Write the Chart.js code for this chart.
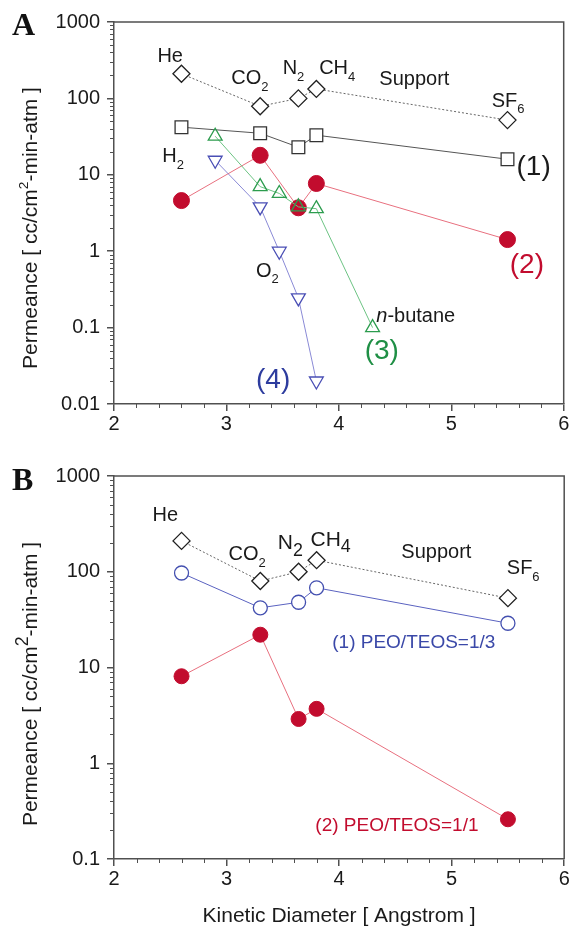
<!DOCTYPE html>
<html lang="en">
<head>
<meta charset="UTF-8" />
<title>Permeance vs Kinetic Diameter</title>
<style>
  * { box-sizing: border-box; margin: 0; padding: 0; }
  body { width: 574px; height: 926px; background: #fff; overflow: hidden; }
  .panel { position: absolute; left: 0; }
  #panel-a { top: 0; }
  #panel-b { top: 440px; }
</style>
</head>
<body>
<div class="panel" id="panel-a"><canvas id="chart-a" width="574" height="440"></canvas></div>
<div class="panel" id="panel-b"><canvas id="chart-b" width="574" height="486"></canvas></div>

<script src="https://cdn.jsdelivr.net/npm/chart.js"></script>
<script>
  // axis ticks
  const xTicks = [2, 3, 4, 5, 6];
  const yTicksA = [0.01, 0.1, 1, 10, 100, 1000];
  const yTicksB = [0.1, 1, 10, 100, 1000];

  // kinetic diameters: He, CO2, N2, CH4, SF6
  const gasX = [2.6, 3.3, 3.64, 3.8, 5.5];

  // panel A
  const supportA = [210, 79, 100, 133, 52];
  const film1A = [42, 35, 23, 33, 16];
  const film2A = [4.6, 18, 3.7, 7.7, 1.42];
  // H2, CO2, O2, N2, CH4, n-butane
  const film3X = [2.9, 3.3, 3.47, 3.64, 3.8, 4.3];
  const film3A = [32, 7.0, 5.7, 3.8, 3.6, 0.1];
  // H2, CO2, O2, N2, CH4
  const film4X = [2.9, 3.3, 3.47, 3.64, 3.8];
  const film4A = [15.5, 3.8, 1.0, 0.245, 0.02];

  // panel B
  const supportB = [210, 80, 100, 132, 53];
  const peo13B = [97, 42, 48, 68, 29];
  const peo11B = [8.1, 22, 2.9, 3.7, 0.26];

  const FONT = '"Liberation Sans", Arial, sans-serif';
  const axisColor = "#505050";
  const textColor = "#1a1a1a";
  const red = "#c20c2e", redLine = "#e8707f";
  const green = "#2c9c4e", greenLine = "#6cc383", greenText = "#1f8f45";
  const blue = "#4a4fb5", blueLine = "#8a8ad6", blueText = "#2d3c9e";
  const blueB = "#4450b0", blueBLine = "#5a62c0", blueBText = "#3a48a8";

  // annotation texts, anchored in data coords (left edge, cap middle)
  // "_" = subscript, "^" = superscript, "*" = italic
  const labelsA = [
    { x: 2.386, y: 369, parts: ["He"], size: 20 },
    { x: 3.044, y: 190, parts: ["CO", "_2"], size: 20 },
    { x: 3.5, y: 257, parts: ["N", "_2"], size: 20 },
    { x: 3.825, y: 257, parts: ["CH", "_4"], size: 20 },
    { x: 4.36, y: 184, parts: ["Support"], size: 20 },
    { x: 5.36, y: 97, parts: ["SF", "_6"], size: 20 },
    { x: 2.43, y: 18, parts: ["H", "_2"], size: 20 },
    { x: 3.263, y: 0.574, parts: ["O", "_2"], size: 20 },
    { x: 4.333, y: 0.147, parts: ["*n", "-butane"], size: 20 },
    { x: 5.58, y: 13.3, parts: ["(1)"], size: 28 },
    { x: 5.52, y: 0.707, parts: ["(2)"], size: 28, color: red },
    { x: 4.23, y: 0.0527, parts: ["(3)"], size: 28, color: greenText },
    { x: 3.263, y: 0.0219, parts: ["(4)"], size: 28, color: blueText },
  ];
  const labelsB = [
    { x: 2.342, y: 401, parts: ["He"], size: 20 },
    { x: 3.018, y: 157, parts: ["CO", "_2"], size: 20 },
    { x: 3.456, y: 205, parts: ["N", "_2"], size: 21, sub: 0.85 },
    { x: 3.746, y: 225, parts: ["CH", "_4"], size: 21, sub: 0.85 },
    { x: 4.553, y: 165, parts: ["Support"], size: 20 },
    { x: 5.49, y: 112, parts: ["SF", "_6"], size: 20 },
    { x: 3.939, y: 18.9, parts: ["(1) PEO/TEOS=1/3"], size: 19, color: blueBText },
    { x: 3.789, y: 0.232, parts: ["(2) PEO/TEOS=1/1"], size: 19, color: red },
  ];

  function points(xs, ys) {
    return xs.map((x, i) => ({ x: x, y: ys[i] }));
  }

  function partsWidth(ctx, parts, size, sub) {
    let w = 0;
    parts.forEach((p) => {
      const s = setPartFont(ctx, p, size, sub);
      w += ctx.measureText(s.t).width;
    });
    return w;
  }

  function setPartFont(ctx, p, size, sub) {
    let t = p, fs = size, dy = 0, style = "";
    if (p[0] === "_") { t = p.slice(1); fs = size * (sub || 0.65); dy = size * 0.32; }
    else if (p[0] === "^") { t = p.slice(1); fs = size * (sub || 0.65); dy = -size * 0.42; }
    else if (p[0] === "*") { t = p.slice(1); style = "italic "; }
    ctx.font = style + fs + "px " + FONT;
    return { t: t, dy: dy };
  }

  function drawParts(ctx, left, mid, parts, size, color, sub) {
    let cx = left;
    const base = mid + size * 0.36;
    ctx.fillStyle = color;
    ctx.textAlign = "left";
    ctx.textBaseline = "alphabetic";
    parts.forEach((p) => {
      const s = setPartFont(ctx, p, size, sub);
      ctx.fillText(s.t, cx, base + s.dy);
      cx += ctx.measureText(s.t).width;
    });
  }

  function decor(cfg) {
    return {
      id: "decor",
      afterDraw(chart) {
        const ctx = chart.ctx;
        const a = chart.chartArea;
        const xs = chart.scales.x, ys = chart.scales.y;
        ctx.save();
        // top and right frame
        ctx.strokeStyle = axisColor;
        ctx.lineWidth = 1.5;
        ctx.beginPath();
        ctx.moveTo(a.left, a.top);
        ctx.lineTo(a.right, a.top);
        ctx.lineTo(a.right, a.bottom);
        ctx.stroke();
        // minor ticks
        ctx.lineWidth = 1;
        ctx.beginPath();
        for (let i = 0; i < xTicks.length - 1; i++) {
          for (let k = 1; k < 5; k++) {
            const px = Math.round(xs.getPixelForValue(xTicks[i] + k * 0.2)) + 0.5;
            ctx.moveTo(px, a.bottom);
            ctx.lineTo(px, a.bottom + 4);
          }
        }
        cfg.yTicks.slice(0, -1).forEach((d) => {
          for (let k = 2; k < 10; k++) {
            const py = Math.round(ys.getPixelForValue(d * k)) + 0.5;
            ctx.moveTo(a.left, py);
            ctx.lineTo(a.left - 4, py);
          }
        });
        ctx.stroke();

        // annotations
        cfg.labels.forEach((l) => {
          drawParts(ctx, xs.getPixelForValue(l.x), ys.getPixelForValue(l.y),
            l.parts, l.size, l.color || textColor, l.sub);
        });

        // y axis title
        ctx.save();
        ctx.translate(29, cfg.yTitleY);
        ctx.rotate(-Math.PI / 2);
        const tw = partsWidth(ctx, cfg.yTitle, 21, cfg.titleSup);
        drawParts(ctx, -tw / 2, 0, cfg.yTitle, 21, textColor, cfg.titleSup);
        ctx.restore();

        // x axis title
        if (cfg.xTitle) {
          ctx.font = "21px " + FONT;
          ctx.fillStyle = textColor;
          ctx.textAlign = "center";
          ctx.textBaseline = "alphabetic";
          ctx.fillText(cfg.xTitle, (a.left + a.right) / 2, cfg.xTitleY + 21 * 0.36);
        }

        // panel letter
        ctx.font = 'bold 32px "Liberation Serif", "Times New Roman", serif';
        ctx.fillStyle = "#111";
        ctx.textAlign = "left";
        ctx.fillText(cfg.letter, 12, cfg.letterY);
        ctx.restore();
      },
    };
  }

  function makeChart(id, datasets, yTicks, padTop, xHeight, cfg) {
    cfg.yTicks = yTicks;
    return new Chart(document.getElementById(id).getContext("2d"), {
      type: "scatter",
      data: { datasets: datasets },
      options: {
        responsive: false,
        animation: false,
        devicePixelRatio: 1,
        layout: { padding: { top: padTop, right: 4, left: 0, bottom: 0 } },
        plugins: { legend: { display: false }, tooltip: { enabled: false } },
        scales: {
          x: {
            type: "linear",
            min: 2,
            max: 6,
            afterBuildTicks: (s) => { s.ticks = xTicks.map((v) => ({ value: v })); },
            afterFit: (s) => { s.height = xHeight; s.paddingLeft = 0; s.paddingRight = 0; },
            ticks: { font: { size: 20, family: FONT }, color: textColor, padding: 1, maxRotation: 0, autoSkip: false, callback: (v) => String(v) },
            grid: { display: true, drawOnChartArea: false, drawTicks: true, tickLength: 7, color: axisColor, lineWidth: 1.5 },
            border: { display: true, color: axisColor, width: 1.5 },
          },
          y: {
            type: "logarithmic",
            min: yTicks[0],
            max: yTicks[yTicks.length - 1],
            afterBuildTicks: (s) => { s.ticks = yTicks.map((v) => ({ value: v })); },
            afterFit: (s) => { s.width = 114; s.paddingTop = 0; s.paddingBottom = 0; },
            ticks: { font: { size: 20, family: FONT }, color: textColor, padding: 7, autoSkip: false, callback: (v) => String(v) },
            grid: { display: true, drawOnChartArea: false, drawTicks: true, tickLength: 7, color: axisColor, lineWidth: 1.5 },
            border: { display: true, color: axisColor, width: 1.5 },
          },
        },
      },
      plugins: [decor(cfg)],
    });
  }

  function support(ys) {
    return {
      label: "Support", data: points(gasX, ys), showLine: true, order: 6,
      borderColor: "#666", borderWidth: 1, borderDash: [2, 2],
      pointStyle: "rectRot", pointRadius: 8.5, pointBorderWidth: 1.3,
      pointBorderColor: "#222", pointBackgroundColor: "#fff",
    };
  }

  makeChart("chart-a", [
    support(supportA),
    {
      label: "(1)", data: points(gasX, film1A), showLine: true, order: 5,
      borderColor: "#555", borderWidth: 1,
      pointStyle: "rect", pointRadius: 9, pointBorderWidth: 1.3,
      pointBorderColor: "#333", pointBackgroundColor: "#fff",
    },
    {
      label: "(2)", data: points(gasX, film2A), showLine: true, order: 4,
      borderColor: redLine, borderWidth: 1,
      pointStyle: "circle", pointRadius: 8, pointBorderWidth: 1,
      pointBorderColor: red, pointBackgroundColor: red,
    },
    {
      label: "(3)", data: points(film3X, film3A), showLine: true, order: 3,
      borderColor: greenLine, borderWidth: 1,
      pointStyle: "triangle", pointRadius: 8, pointBorderWidth: 1.3,
      pointBorderColor: green, pointBackgroundColor: "rgba(255,255,255,0)",
    },
    {
      label: "(4)", data: points(film4X, film4A), showLine: true, order: 2,
      borderColor: blueLine, borderWidth: 1,
      pointStyle: "triangle", pointRotation: 180, pointRadius: 8, pointBorderWidth: 1.3,
      pointBorderColor: blue, pointBackgroundColor: "#fff",
    },
  ], yTicksA, 22, 36, {
    labels: labelsA,
    letter: "A", letterY: 35,
    yTitle: ["Permeance [ cc/cm", "^2", "-min-atm ]"], yTitleY: 228,
  });

  makeChart("chart-b", [
    support(supportB),
    {
      label: "(1) PEO/TEOS=1/3", data: points(gasX, peo13B), showLine: true, order: 5,
      borderColor: blueBLine, borderWidth: 1,
      pointStyle: "circle", pointRadius: 7, pointBorderWidth: 1.3,
      pointBorderColor: blueB, pointBackgroundColor: "#fff",
    },
    {
      label: "(2) PEO/TEOS=1/1", data: points(gasX, peo11B), showLine: true, order: 4,
      borderColor: redLine, borderWidth: 1,
      pointStyle: "circle", pointRadius: 7.5, pointBorderWidth: 1,
      pointBorderColor: red, pointBackgroundColor: red,
    },
  ], yTicksB, 36, 67, {
    labels: labelsB,
    letter: "B", letterY: 50,
    yTitle: ["Permeance [ cc/cm", "^2", "-min-atm ]"], yTitleY: 244, titleSup: 0.85,
    xTitle: "Kinetic Diameter [ Angstrom ]", xTitleY: 474,
  });
</script>
</body>
</html>
